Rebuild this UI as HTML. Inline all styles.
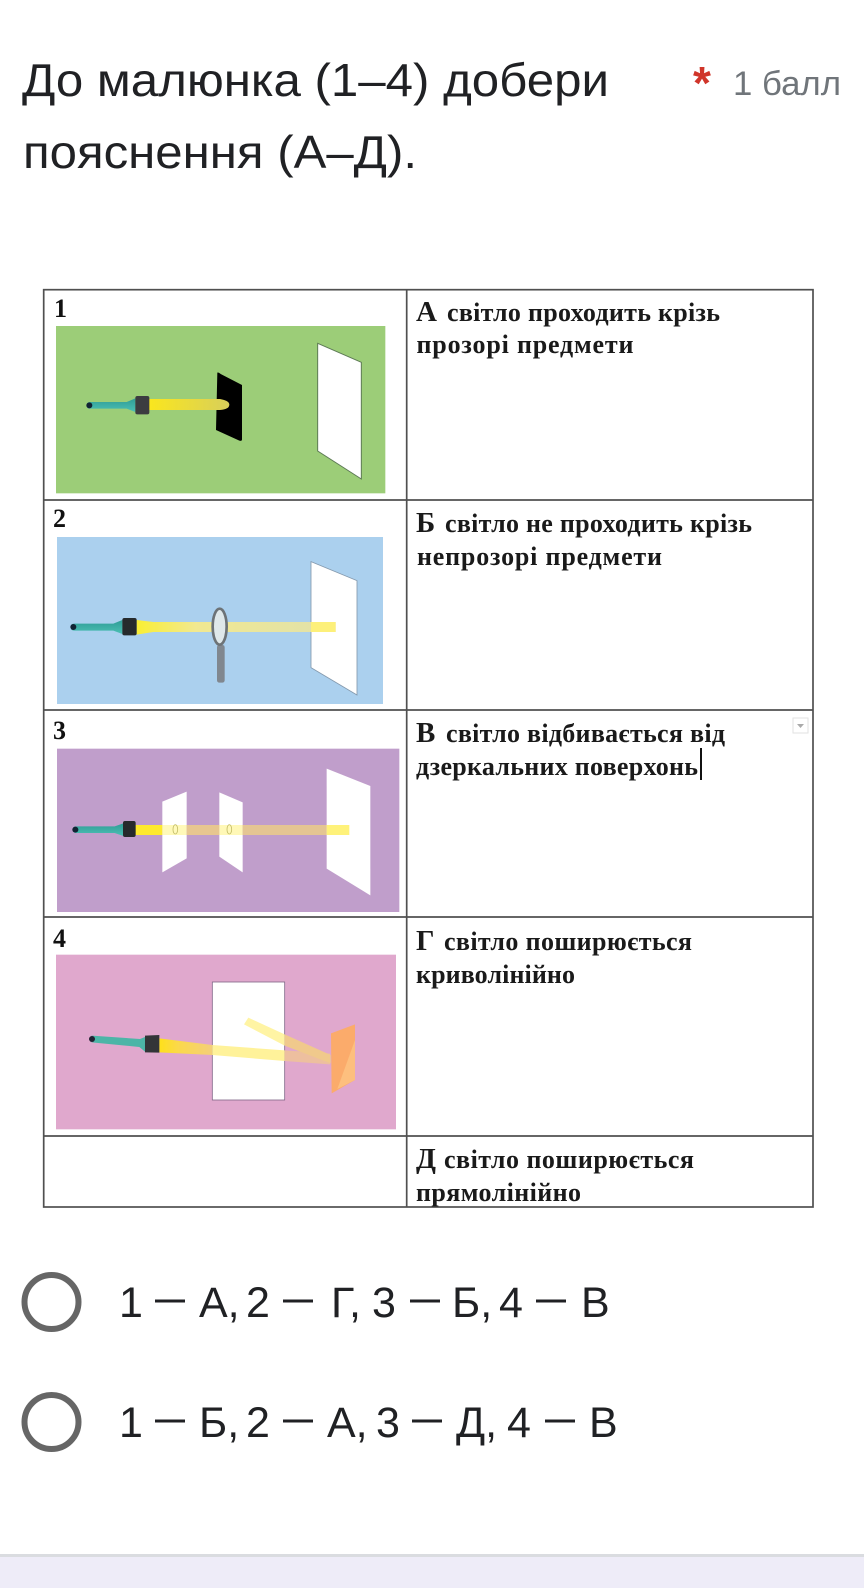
<!DOCTYPE html>
<html lang="uk">
<head>
<meta charset="utf-8">
<title>До малюнка</title>
<style>
html,body{margin:0;padding:0;background:#fff;width:864px;height:1588px;overflow:hidden}
svg{display:block}
.t{font-family:"Liberation Sans",sans-serif;fill:#202124}
.s{font-family:"Liberation Serif",serif;fill:#1a1a1a;font-weight:700;font-size:26px}
.b{font-size:29px}
.n{font-family:"Liberation Serif",serif;font-weight:700;font-size:26px;fill:#111}
.d{font-size:30px;font-weight:700}
</style>
</head>
<body>
<svg width="864" height="1588" viewBox="0 0 864 1588" xmlns="http://www.w3.org/2000/svg">
<defs>
<linearGradient id="b1" x1="0" x2="1" y1="0" y2="0"><stop offset="0" stop-color="#fbe71c"/><stop offset="1" stop-color="#d8cf5a"/></linearGradient>
<linearGradient id="b2" x1="0" x2="1" y1="0" y2="0"><stop offset="0" stop-color="#fdf02a"/><stop offset=".3" stop-color="#f5ea8c"/><stop offset="1" stop-color="#e3e2a8"/></linearGradient>
<linearGradient id="b4" x1="0" x2="1" y1="0" y2="0"><stop offset="0" stop-color="#fee01a"/><stop offset=".35" stop-color="#fbd94a"/><stop offset="1" stop-color="#f4cf7a"/></linearGradient>
<linearGradient id="h" x1="0" x2="0" y1="0" y2="1"><stop offset="0" stop-color="#2f9c96"/><stop offset="1" stop-color="#4cc0b4"/></linearGradient>
</defs>
<rect width="864" height="1588" fill="#fff"/>

<!-- header -->
<text class="t" x="22" y="96" font-size="46" textLength="587" lengthAdjust="spacingAndGlyphs">До малюнка (1–4) добери</text>
<text class="t" x="23" y="168" font-size="46" textLength="394" lengthAdjust="spacingAndGlyphs">пояснення (А–Д).</text>
<text x="693" y="99" font-family="Liberation Sans,sans-serif" font-size="46" font-weight="700" fill="#d0352a">*</text>
<text x="733" y="95" font-family="Liberation Sans,sans-serif" font-size="34" fill="#70757a" textLength="108" lengthAdjust="spacingAndGlyphs">1 балл</text>

<!-- table -->
<g fill="none" stroke="#505050" stroke-width="1.7">
<rect x="43.7" y="289.7" width="769.3" height="917.3"/>
<path d="M406.7 289.7V1207M43.7 500H813M43.7 710H813M43.7 917H813M43.7 1136H813"/>
</g>

<!-- row 1 -->
<text class="n" x="54" y="317">1</text>
<g transform="translate(30,280) scale(.33333)">
<rect x="78" y="138" width="988" height="502" fill="#9ccd78"/>
<path d="M863 190L994 247V597L863 513Z" fill="#fff" stroke="#5d7a55" stroke-width="3"/>
<path d="M562 278Q565 276 572 282L636 315V478Q636 484 628 482L558 450Z" fill="#000"/>
<path d="M350 357H570Q598 362 598 374Q598 388 570 390H350Z" fill="url(#b1)"/>
<path d="M170 376Q170 366 180 366H290L316 355V396L290 386H180Q170 386 170 376Z" fill="url(#h)"/>
<circle cx="178" cy="376" r="9" fill="#123"/>
<rect x="316" y="348" width="42" height="55" rx="6" fill="#3c3c40"/>
</g>

<!-- row 2 -->
<text class="n" x="53" y="527">2</text>
<g transform="translate(30,500) scale(.33333)">
<rect x="81" y="111" width="978" height="501" fill="#abd0ee"/>
<path d="M843 185L981 242V585L843 503Z" fill="#fff" stroke="#8499ad" stroke-width="2.5"/>
<path d="M320 360L370 366H917V396H370L320 404Z" fill="url(#b2)" opacity=".95"/>
<path d="M843 366H917V396H843Z" fill="#fdf07a"/>
<rect x="561" y="435" width="23" height="113" rx="7" fill="#80878f"/>
<ellipse cx="569" cy="380" rx="21" ry="54" fill="#dfe8ea" stroke="#6d7377" stroke-width="8"/>
<path d="M122 381Q122 371 132 371H250L277 360V402L250 392H132Q122 392 122 381Z" fill="url(#h)"/>
<circle cx="130" cy="381" r="9" fill="#123"/>
<rect x="277" y="354" width="43" height="52" rx="6" fill="#262a2c"/>
</g>

<!-- row 3 -->
<text class="n" x="53" y="739">3</text>
<g transform="translate(30,710) scale(.33333)">
<rect x="81" y="116" width="1027" height="490" fill="#c09ecb"/>
<path d="M890 176L1021 228V556L890 476Z" fill="#fff"/>
<path d="M397 275L470 245V445L397 487Z" fill="#fff"/>
<path d="M568 247L638 277V487L568 440Z" fill="#fff"/>
<path d="M316 345H397V375H316Z" fill="#fde92e"/>
<path d="M397 345H470V375H397Z" fill="#fff8a8" opacity=".8"/>
<path d="M470 345H568V375H470Z" fill="#e7c690"/>
<path d="M568 345H638V375H568Z" fill="#fff6a5" opacity=".8"/>
<path d="M638 345H890V375H638Z" fill="#e4c593"/>
<path d="M890 345H958V375H890Z" fill="#fff27a"/>
<ellipse cx="436" cy="358" rx="7" ry="14" fill="none" stroke="#c4bd68" stroke-width="2.5"/>
<ellipse cx="598" cy="358" rx="7" ry="14" fill="none" stroke="#c4bd68" stroke-width="2.5"/>
<path d="M128 359Q128 349 138 349H254L280 340V378L254 369H138Q128 369 128 359Z" fill="url(#h)"/>
<circle cx="136" cy="359" r="9" fill="#123"/>
<rect x="279" y="333" width="38" height="48" rx="6" fill="#262a2c"/>
</g>

<!-- row 4 -->
<text class="n" x="53" y="947">4</text>
<g transform="translate(30,915) scale(.33333)">
<rect x="78" y="119" width="1020" height="524" fill="#e0a8cd"/>
<rect x="547" y="201" width="217" height="354" fill="#fff" stroke="#84698a" stroke-width="2.5"/>
<path d="M388 370L547 390V420L388 412Z" fill="url(#b4)"/>
<path d="M547 390L764 406V438L547 420Z" fill="#fff29a"/>
<path d="M764 406L900 416V448L764 438Z" fill="#edbf9f"/>
<path d="M655 308L764 358V392L642 328Z" fill="#fff4a4"/>
<path d="M764 358L902 420V445L764 392Z" fill="#f0c98c"/>
<path d="M903 355L975 328V495L905 535Z" fill="#fbab6b"/>
<path d="M975 375V495L922 522Z" fill="#fdbf7e"/>
<path d="M185 362L330 372L345 366V410L328 396L185 382Q178 372 185 362Z" fill="#4cb5a7"/>
<circle cx="186" cy="372" r="9" fill="#223"/>
<path d="M345 362L388 360V413L345 412Z" fill="#333538"/>
</g>

<!-- right column text -->
<text class="s b" x="416" y="321">А</text>
<text class="s" x="447" y="321" textLength="273" lengthAdjust="spacing">світло проходить крізь</text>
<text class="s" x="416.500" y="353" textLength="217" lengthAdjust="spacing">прозорі предмети</text>

<text class="s b" x="416" y="532">Б</text>
<text class="s" x="445" y="532" textLength="307" lengthAdjust="spacing">світло не проходить крізь</text>
<text class="s" x="417" y="565" textLength="245" lengthAdjust="spacing">непрозорі предмети</text>

<text class="s b" x="416" y="742">В</text>
<text class="s" x="446" y="742" textLength="279" lengthAdjust="spacing">світло відбивається від</text>
<text class="s" x="416" y="775" textLength="282" lengthAdjust="spacing">дзеркальних поверхонь</text>

<text class="s b" x="416" y="950">Г</text>
<text class="s" x="444" y="950" textLength="248" lengthAdjust="spacing">світло поширюється</text>
<text class="s" x="416" y="983" textLength="159" lengthAdjust="spacing">криволінійно</text>

<text class="s b" x="416" y="1168">Д</text>
<text class="s" x="444" y="1168" textLength="250" lengthAdjust="spacing">світло поширюється</text>
<text class="s" x="416" y="1201" textLength="165" lengthAdjust="spacing">прямолінійно</text>

<!-- cursor + dropdown -->
<rect x="700" y="748" width="2" height="32" fill="#111"/>
<rect x="793" y="718" width="15" height="15" fill="#fff" stroke="#e2e2e2"/>
<path d="M797 724H804L800.500 728Z" fill="#aaa"/>

<!-- options -->
<circle cx="51.500" cy="1302" r="27" fill="none" stroke="#666" stroke-width="6"/>
<text class="t" y="1317" font-size="43"><tspan x="119">1</tspan><tspan class="d" x="155" dy="-8">—</tspan><tspan x="199" dy="8">А,</tspan><tspan x="246">2</tspan><tspan class="d" x="283" dy="-8">—</tspan><tspan x="331" dy="8">Г,</tspan><tspan x="372">3</tspan><tspan class="d" x="410" dy="-8">—</tspan><tspan x="452" dy="8">Б,</tspan><tspan x="499">4</tspan><tspan class="d" x="536" dy="-8">—</tspan><tspan x="581" dy="8">В</tspan></text>
<circle cx="51.500" cy="1422" r="27" fill="none" stroke="#666" stroke-width="6"/>
<text class="t" y="1437" font-size="43"><tspan x="119">1</tspan><tspan class="d" x="155" dy="-8">—</tspan><tspan x="199" dy="8">Б,</tspan><tspan x="246">2</tspan><tspan class="d" x="283" dy="-8">—</tspan><tspan x="327" dy="8">А,</tspan><tspan x="376">3</tspan><tspan class="d" x="412" dy="-8">—</tspan><tspan x="456" dy="8">Д,</tspan><tspan x="507">4</tspan><tspan class="d" x="545" dy="-8">—</tspan><tspan x="589" dy="8">В</tspan></text>

<!-- footer band -->
<rect x="0" y="1554" width="864" height="3" fill="#dadce0"/>
<rect x="0" y="1557" width="864" height="31" fill="#eeecf8"/>
</svg>
</body>
</html>
